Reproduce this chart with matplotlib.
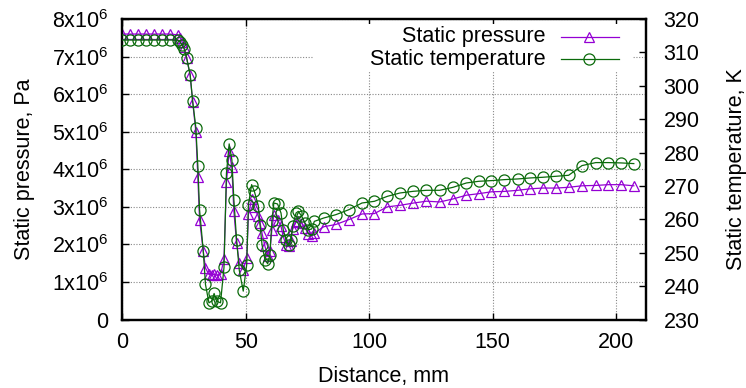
import numpy as np
import matplotlib
matplotlib.use('Agg')
from matplotlib import pyplot as plt
from matplotlib.ticker import FuncFormatter, MultipleLocator
from matplotlib.lines import Line2D
from matplotlib.patches import Rectangle

plt.rcParams['font.family'] = ['Liberation Sans', 'DejaVu Sans']
plt.rcParams['mathtext.default'] = 'regular'

# distance along the channel, mm
distance = [0, 3.2, 6.4, 9.6, 12.8, 16.0, 19.2, 22.4, 23.4, 24.2, 25.1, 26.1, 27.5, 28.5,
            29.8, 30.6, 31.3, 32.8, 33.7, 35.1, 36.2, 37.2, 38.2, 39.8, 41.2, 42.2, 43.3,
            44.4, 45.2, 46.3, 47.4, 49.0, 50.4, 51.1, 52.4, 53.5, 55.1, 55.8, 56.6, 57.8,
            58.9, 59.8, 60.6, 61.4, 62.9, 64.3, 65.2, 66.3, 67.4, 68.3, 69.0, 70.4, 71.3,
            72.7, 74.0, 75.4, 76.7, 77.8, 81.6, 86.5, 91.8, 97.1, 102.1, 107.4, 112.5,
            117.9, 123.2, 128.6, 134.0, 139.4, 144.4, 149.5, 154.8, 160.2, 165.2, 170.3,
            175.7, 180.8, 186.2, 191.8, 196.9, 202.0, 207.2]

# static pressure, MPa
pressure = [7.6, 7.6, 7.6, 7.6, 7.6, 7.6, 7.6, 7.58, 7.5, 7.4, 7.25, 6.95, 6.5, 5.8,
            5.0, 3.8, 2.66, 1.82, 1.37, 1.2, 1.18, 1.2, 1.18, 1.2, 1.6, 3.65, 4.48,
            4.05, 2.88, 2.04, 1.51, 1.33, 1.64, 2.8, 3.2, 3.0, 2.75, 2.57, 2.3, 1.95,
            1.68, 1.82, 2.39, 2.79, 2.66, 2.48, 2.21, 1.99, 1.95, 2.1, 2.4, 2.6, 2.62,
            2.57, 2.44, 2.28, 2.23, 2.3, 2.47, 2.53, 2.66, 2.81, 2.82, 3.0, 3.04,
            3.1, 3.15, 3.13, 3.21, 3.31, 3.35, 3.4, 3.41, 3.44, 3.48, 3.5,
            3.5, 3.52, 3.56, 3.57, 3.59, 3.59, 3.56]

# static temperature, K
temperature = [313.7, 313.7, 313.7, 313.7, 313.7, 313.7, 313.7, 313.7, 313.2, 312.2, 311.0,
               308.3, 303.3, 295.5, 287.5, 276.1, 262.9, 250.6, 240.5, 235.0, 235.5, 237.8,
               235.5, 235.0, 245.6, 273.9, 282.6, 277.8, 265.9, 253.9, 244.7, 238.5, 246.4,
               264.4, 270.4, 268.4, 264.1, 258.4, 252.4, 247.9, 246.7, 249.4, 259.4, 264.9,
               264.6, 261.9, 256.9, 253.9, 252.4, 253.9, 258.1, 261.9, 262.4, 260.9, 258.9,
               256.9, 257.1, 259.4, 260.4, 261.4, 262.9, 264.9, 265.4, 266.9, 267.9, 268.4,
               268.7, 268.7, 269.6, 270.9, 271.4, 271.6, 271.9, 272.1, 272.4, 272.6, 272.9,
               273.2, 276.1, 277.0, 277.0, 276.9, 276.7]

labels = ['Static pressure', 'Static temperature']
purple = '#9400d3'
green = '#0a6a0a'
fs = 15.5

fig = plt.figure(figsize=(7.46, 3.88), dpi=100)
ax = fig.add_axes([0.1639, 0.1765, 0.7016, 0.7745])
ax2 = ax.twinx()

p = np.array(pressure) * 1e6
ax.plot(distance, p, color=purple, lw=0.9, marker='^', ms=7, mfc='none', mew=0.9, zorder=3)
ax2.plot(distance, temperature, color=green, lw=0.9, marker='o', ms=8, mfc='none', mew=0.9, zorder=3)

ax.set_xlim(0, 212)
ax.set_ylim(0, 8e6)
ax2.set_ylim(230, 320)
ax.xaxis.set_major_locator(MultipleLocator(50))
ax.yaxis.set_major_locator(MultipleLocator(1e6))
ax2.yaxis.set_major_locator(MultipleLocator(10))
ax.yaxis.set_major_formatter(FuncFormatter(
    lambda v, _: '0' if v == 0 else r'%dx10$^{6}$' % round(v / 1e6)))

ax.grid(True, color='#888888', ls=(0, (1, 1.5)), lw=0.8)
ax.tick_params(direction='in', length=5, width=1, labelsize=fs, top=True)
ax.tick_params(axis='x', pad=9)
ax.tick_params(axis='y', pad=10)
ax2.tick_params(direction='in', length=5, width=1, labelsize=fs, pad=13)
for a in (ax, ax2):
    for s in a.spines.values():
        s.set_linewidth(1.6)

ax.set_xlabel('Distance, mm', fontsize=fs, labelpad=9)
ax.set_ylabel('Static pressure, Pa', fontsize=fs, labelpad=12)
ax2.set_ylabel('Static temperature, K', fontsize=fs, labelpad=19)

# gnuplot-style key: white box, text right-justified left of the sample
ax2.add_patch(Rectangle((0.364, 0.827), 0.61, 0.156, transform=ax2.transAxes,
                        facecolor='white', edgecolor='none', zorder=4))
ax.set_zorder(0)
ax2.set_zorder(1)
ax2.patch.set_visible(False)
for lab, col, mk, ms, yy in [(labels[0], purple, '^', 7, 0.941),
                             (labels[1], green, 'o', 8, 0.866)]:
    ax2.text(0.8095, yy, lab, transform=ax2.transAxes, ha='right', va='center',
             fontsize=fs, zorder=5)
    ax2.add_line(Line2D([0.838, 0.949], [yy, yy], transform=ax2.transAxes,
                        color=col, lw=0.9, zorder=5))
    ax2.add_line(Line2D([0.891], [yy], transform=ax2.transAxes, color=col,
                        marker=mk, ms=ms, mfc='none', mew=0.9, zorder=5))

fig.savefig('out.png', dpi=100)
